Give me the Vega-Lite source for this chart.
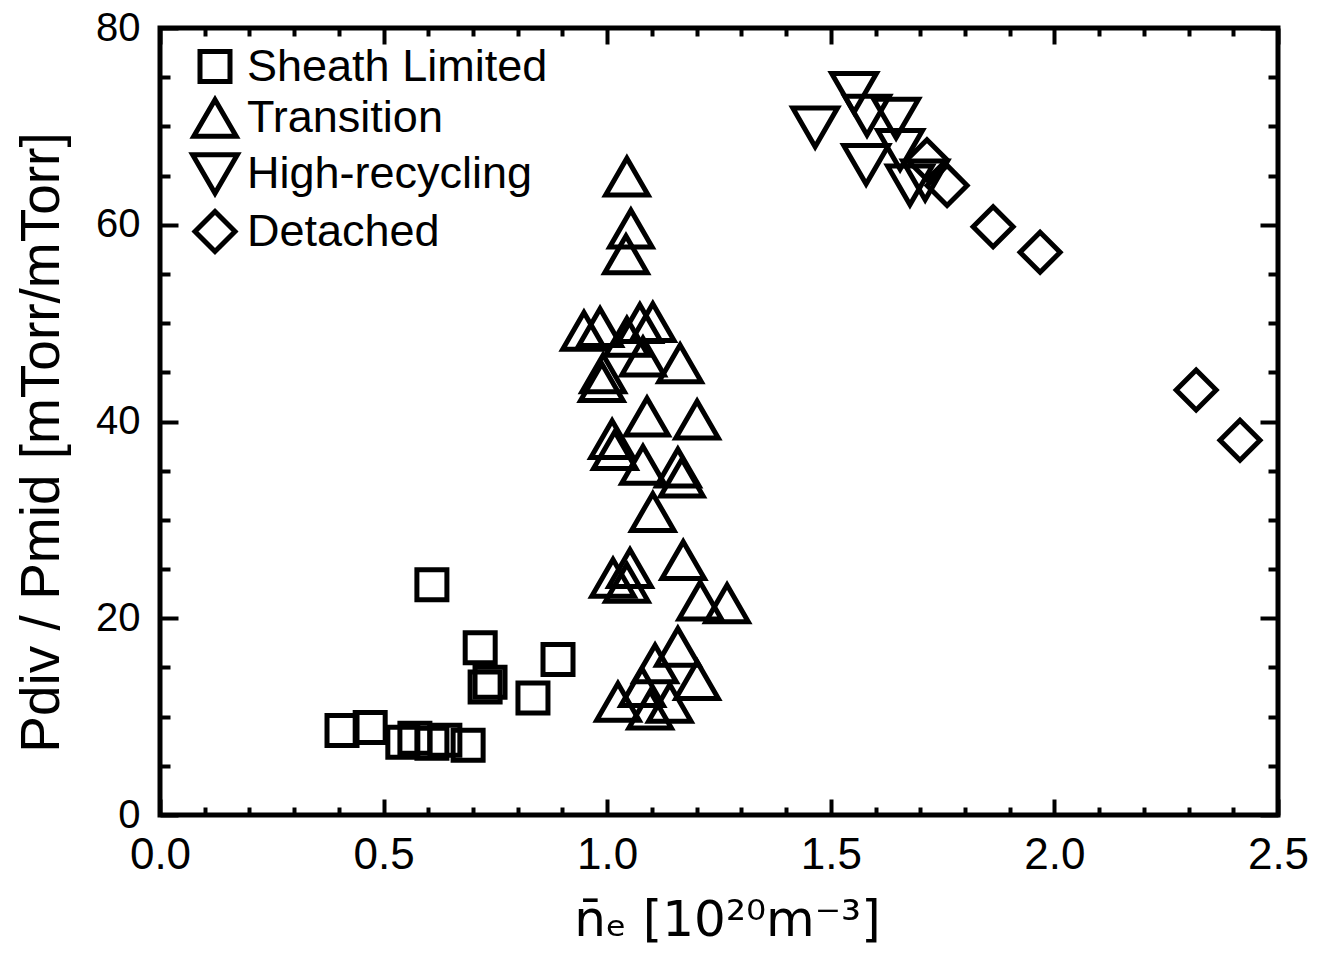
{
  "$schema": "https://vega.github.io/schema/vega-lite/v6.json",
  "width": 1118,
  "height": 787,
  "autosize": {"type": "none"},
  "padding": {"left": 160, "top": 28, "right": 47, "bottom": 142},
  "background": "white",
  "config": {
    "font": "Liberation Sans",
    "view": {"stroke": "black", "strokeWidth": 5},
    "axis": {"grid": false, "domain": false, "tickColor": "black", "tickWidth": 4, "labelColor": "black", "titleColor": "black", "titleFontWeight": "normal", "labelFont": "Liberation Sans", "titleFont": "Liberation Sans"},
    "legend": {"symbolStrokeWidth": 5, "symbolStrokeColor": "black", "symbolFillColor": "transparent", "labelFontSize": 45, "labelColor": "black", "labelFont": "Liberation Sans", "labelLimit": 0, "padding": 0}
  },
  "data": {
    "values": [
      {"regime": "Sheath Limited", "ne": 0.407, "ratio": 8.6},
      {"regime": "Sheath Limited", "ne": 0.470, "ratio": 8.9},
      {"regime": "Sheath Limited", "ne": 0.543, "ratio": 7.4},
      {"regime": "Sheath Limited", "ne": 0.570, "ratio": 7.8},
      {"regime": "Sheath Limited", "ne": 0.608, "ratio": 7.3},
      {"regime": "Sheath Limited", "ne": 0.637, "ratio": 7.6},
      {"regime": "Sheath Limited", "ne": 0.689, "ratio": 7.1},
      {"regime": "Sheath Limited", "ne": 0.608, "ratio": 23.4},
      {"regime": "Sheath Limited", "ne": 0.716, "ratio": 17.0},
      {"regime": "Sheath Limited", "ne": 0.727, "ratio": 13.0},
      {"regime": "Sheath Limited", "ne": 0.738, "ratio": 13.5},
      {"regime": "Sheath Limited", "ne": 0.834, "ratio": 11.9},
      {"regime": "Sheath Limited", "ne": 0.890, "ratio": 15.8},
      {"regime": "Transition", "ne": 1.044, "ratio": 64.9},
      {"regime": "Transition", "ne": 1.053, "ratio": 59.6},
      {"regime": "Transition", "ne": 1.042, "ratio": 57.0},
      {"regime": "Transition", "ne": 0.948, "ratio": 49.2},
      {"regime": "Transition", "ne": 0.984, "ratio": 49.6},
      {"regime": "Transition", "ne": 1.044, "ratio": 48.6},
      {"regime": "Transition", "ne": 1.073, "ratio": 50.0},
      {"regime": "Transition", "ne": 1.102, "ratio": 50.1},
      {"regime": "Transition", "ne": 1.080, "ratio": 46.6},
      {"regime": "Transition", "ne": 0.991, "ratio": 44.9},
      {"regime": "Transition", "ne": 0.988, "ratio": 44.0},
      {"regime": "Transition", "ne": 1.163, "ratio": 45.9},
      {"regime": "Transition", "ne": 1.089, "ratio": 40.5},
      {"regime": "Transition", "ne": 1.201, "ratio": 40.2},
      {"regime": "Transition", "ne": 1.011, "ratio": 38.2},
      {"regime": "Transition", "ne": 1.017, "ratio": 37.1},
      {"regime": "Transition", "ne": 1.080, "ratio": 35.6},
      {"regime": "Transition", "ne": 1.158, "ratio": 35.3},
      {"regime": "Transition", "ne": 1.167, "ratio": 34.3},
      {"regime": "Transition", "ne": 1.102, "ratio": 30.8},
      {"regime": "Transition", "ne": 1.013, "ratio": 24.1},
      {"regime": "Transition", "ne": 1.051, "ratio": 25.1},
      {"regime": "Transition", "ne": 1.044, "ratio": 23.6},
      {"regime": "Transition", "ne": 1.170, "ratio": 25.9},
      {"regime": "Transition", "ne": 1.208, "ratio": 21.8},
      {"regime": "Transition", "ne": 1.268, "ratio": 21.5},
      {"regime": "Transition", "ne": 1.158, "ratio": 17.1},
      {"regime": "Transition", "ne": 1.107, "ratio": 15.4},
      {"regime": "Transition", "ne": 1.201, "ratio": 13.7},
      {"regime": "Transition", "ne": 1.078, "ratio": 13.0},
      {"regime": "Transition", "ne": 1.024, "ratio": 11.5},
      {"regime": "Transition", "ne": 1.140, "ratio": 11.4},
      {"regime": "Transition", "ne": 1.096, "ratio": 10.7},
      {"regime": "High-recycling", "ne": 1.465, "ratio": 69.9},
      {"regime": "High-recycling", "ne": 1.552, "ratio": 73.4},
      {"regime": "High-recycling", "ne": 1.581, "ratio": 71.1},
      {"regime": "High-recycling", "ne": 1.646, "ratio": 70.8},
      {"regime": "High-recycling", "ne": 1.579, "ratio": 66.1},
      {"regime": "High-recycling", "ne": 1.655, "ratio": 67.6},
      {"regime": "High-recycling", "ne": 1.677, "ratio": 64.0},
      {"regime": "High-recycling", "ne": 1.711, "ratio": 64.5},
      {"regime": "Detached", "ne": 1.715, "ratio": 66.6},
      {"regime": "Detached", "ne": 1.760, "ratio": 64.0},
      {"regime": "Detached", "ne": 1.863, "ratio": 59.8},
      {"regime": "Detached", "ne": 1.968, "ratio": 57.2},
      {"regime": "Detached", "ne": 2.317, "ratio": 43.2},
      {"regime": "Detached", "ne": 2.415, "ratio": 38.1}
    ]
  },
  "resolve": {"axis": {"x": "independent", "y": "independent"}},
  "layer": [
    {
      "mark": {"type": "point", "filled": false, "color": "black", "stroke": "black", "strokeWidth": 5, "opacity": 1},
      "encoding": {
        "x": {
          "field": "ne", "type": "quantitative",
          "scale": {"domain": [0, 2.5], "nice": false, "zero": false},
          "axis": {"orient": "bottom", "values": [0, 0.5, 1, 1.5, 2, 2.5], "format": ".1f", "ticks": false, "labelFontSize": 44, "labelPadding": 18, "labelFlush": false, "labelOverlap": false,
                   "title": "n̄ₑ  [10²⁰m⁻³]", "titleFont": "DejaVu Sans", "titleFontSize": 50, "titleX": 567, "titleY": 120, "titleBaseline": "alphabetic"}
        },
        "y": {
          "field": "ratio", "type": "quantitative",
          "scale": {"domain": [0, 80], "nice": false, "zero": false},
          "axis": {"orient": "left", "values": [0, 20, 40, 60, 80], "format": "d", "ticks": false, "labelFontSize": 40, "labelPadding": 20, "labelFlush": false, "labelOverlap": false,
                   "title": "Pdiv / Pmid  [mTorr/mTorr]", "titleFontSize": 55, "titleX": -102, "titleY": 414, "titleBaseline": "alphabetic", "titleAngle": -90}
        },
        "shape": {
          "field": "regime", "type": "nominal",
          "scale": {"domain": ["Sheath Limited", "Transition", "High-recycling", "Detached"], "range": ["square", "triangle-up", "triangle-down", "diamond"]},
          "legend": {"title": null, "orient": "none", "legendX": 30, "legendY": 16, "rowPadding": -3, "labelOffset": 7, "labelLimit": 0}
        },
        "size": {
          "field": "regime", "type": "nominal",
          "scale": {"type": "ordinal", "domain": ["Sheath Limited", "Transition", "High-recycling", "Detached"], "range": [900, 1800, 2000, 1600]}
        }
      }
    },
    {
      "mark": {"type": "point", "opacity": 0},
      "encoding": {
        "x": {"field": "ne", "type": "quantitative", "scale": {"domain": [0, 2.5], "nice": false, "zero": false},
              "axis": {"orient": "bottom", "values": [0, 0.5, 1, 1.5, 2, 2.5], "labels": false, "tickSize": -16, "title": null}},
        "y": {"field": "ratio", "type": "quantitative", "scale": {"domain": [0, 80], "nice": false, "zero": false},
              "axis": {"orient": "left", "values": [0, 20, 40, 60, 80], "labels": false, "tickSize": -18, "title": null}}
      }
    },
    {
      "mark": {"type": "point", "opacity": 0},
      "encoding": {
        "x": {"field": "ne", "type": "quantitative", "scale": {"domain": [0, 2.5], "nice": false, "zero": false},
              "axis": {"orient": "bottom", "values": [0.1, 0.2, 0.3, 0.4, 0.6, 0.7, 0.8, 0.9, 1.1, 1.2, 1.3, 1.4, 1.6, 1.7, 1.8, 1.9, 2.1, 2.2, 2.3, 2.4], "labels": false, "tickSize": -8, "title": null}},
        "y": {"field": "ratio", "type": "quantitative", "scale": {"domain": [0, 80], "nice": false, "zero": false},
              "axis": {"orient": "left", "values": [5, 10, 15, 25, 30, 35, 45, 50, 55, 65, 70, 75], "labels": false, "tickSize": -10, "title": null}}
      }
    },
    {
      "mark": {"type": "point", "opacity": 0},
      "encoding": {
        "x": {"field": "ne", "type": "quantitative", "scale": {"domain": [0, 2.5], "nice": false, "zero": false},
              "axis": {"orient": "top", "values": [0, 0.5, 1, 1.5, 2, 2.5], "labels": false, "tickSize": -16, "title": null}},
        "y": {"field": "ratio", "type": "quantitative", "scale": {"domain": [0, 80], "nice": false, "zero": false},
              "axis": {"orient": "right", "values": [0, 20, 40, 60, 80], "labels": false, "tickSize": -18, "title": null}}
      }
    },
    {
      "mark": {"type": "point", "opacity": 0},
      "encoding": {
        "x": {"field": "ne", "type": "quantitative", "scale": {"domain": [0, 2.5], "nice": false, "zero": false},
              "axis": {"orient": "top", "values": [0.1, 0.2, 0.3, 0.4, 0.6, 0.7, 0.8, 0.9, 1.1, 1.2, 1.3, 1.4, 1.6, 1.7, 1.8, 1.9, 2.1, 2.2, 2.3, 2.4], "labels": false, "tickSize": -8, "title": null}},
        "y": {"field": "ratio", "type": "quantitative", "scale": {"domain": [0, 80], "nice": false, "zero": false},
              "axis": {"orient": "right", "values": [5, 10, 15, 25, 30, 35, 45, 50, 55, 65, 70, 75], "labels": false, "tickSize": -10, "title": null}}
      }
    }
  ]
}
